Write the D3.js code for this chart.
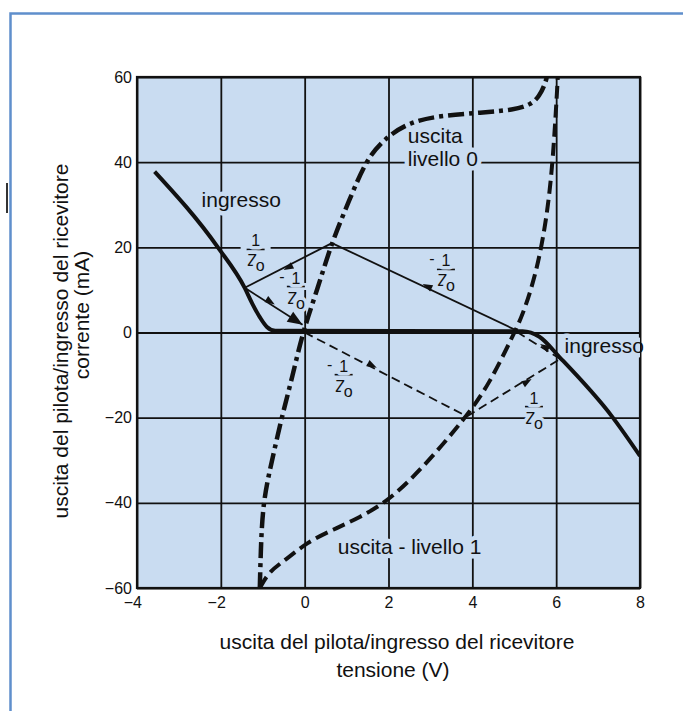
<!DOCTYPE html>
<html>
<head>
<meta charset="utf-8">
<script src="https://cdn.jsdelivr.net/npm/d3@7"></script>
<style>
  body { margin: 0; background: #fff; }
  svg { display: block; font-family: "Liberation Sans", Arial, sans-serif; }
</style>
</head>
<body>
<div class="chart"></div>
<script>
// axis ticks
var xTicks = [-4, -2, 0, 2, 4, 6, 8];
var yTicks = [-60, -40, -20, 0, 20, 40, 60];

// characteristic curves, [tensione V, corrente mA]
var ingresso = [[-3.58, 37.8], [-2.07, 20], [-1.43, 10.5], [-1.25, 6.8], [-1.07, 3.6],
  [-0.9, 1.3], [-0.7, 0.4], [5.2, 0.3], [5.6, -1], [6.1, -6], [7.33, -19.7], [8, -29]];
var uscitaLivello0 = [[-1.07, -60], [-1.05, -52], [-1.0, -40], [-0.79, -30.5], [-0.55, -20],
  [-0.29, -10.3], [-0.05, 0], [0.3, 10], [0.64, 21], [1.07, 31.2], [1.47, 40.6], [1.9, 45.5],
  [2.5, 49.5], [3.3, 51], [4.2, 51.6], [5.0, 52.3], [5.4, 53.5], [5.6, 55.5], [5.72, 58], [5.78, 60]];
var uscitaLivello1 = [[-1.07, -60], [-0.84, -56], [-0.44, -53.3], [0.05, -49.3], [0.68, -46.3],
  [1.3, -43.5], [1.99, -39.6], [2.8, -32], [3.87, -19.7], [4.42, -11.8], [4.96, -0.9], [5.2, 4],
  [5.53, 14], [5.78, 27], [5.93, 41], [6.04, 60]];

// load lines (slope +-1/Zo), arrow at fraction t along the segment
var loadSolid = [
  {from: [5.05, 0.5], to: [0.65, 21], t: 0.53},
  {from: [0.65, 21], to: [-1.43, 10.5], t: 0.6},
  {from: [-1.43, 10.5], to: [-0.05, 1.8], t: 0.45, endArrow: true}
];
var loadDashed = [
  {from: [0, 0], to: [3.87, -19.7], t: 0.42},
  {from: [3.87, -19.7], to: [6.1, -6.2], t: 0.65},
  {from: [6.1, -6.2], to: [5.05, 0.2], t: 0.55}
];

// text labels inside the plot
var labels = [
  {text: "ingresso", x: -2.46, y: 29.4},
  {text: "ingresso", x: 6.2, y: -4.7},
  {text: "uscita", x: 2.46, y: 44.6},
  {text: "livello 0", x: 2.46, y: 39.0},
  {text: "uscita - livello 1", x: 0.79, y: -52.1}
];
// 1/Zo fractions (centre of the fraction bar)
var fractions = [
  {sign: "", x: -1.17, y: 19.5},
  {sign: "-", x: -0.21, y: 10.8},
  {sign: "-", x: 3.37, y: 14.8},
  {sign: "-", x: 0.93, y: -9.9},
  {sign: "", x: 5.47, y: -17.4}
];

var W = 683, H = 711;
var margin = {top: 77, right: 43, bottom: 123, left: 137},
    width = W - margin.left - margin.right,
    height = H - margin.top - margin.bottom;
var bg = "#c9dcf1", ink = "#111";

var svg = d3.select(".chart").append("svg")
    .attr("width", W)
    .attr("height", H);

// page frame
svg.append("path")
    .attr("d", "M10.5,711V13.5H683")
    .attr("fill", "none")
    .attr("stroke", "#5f8fcc")
    .attr("stroke-width", 2.5);
svg.append("rect")
    .attr("x", 6).attr("y", 183).attr("width", 2).attr("height", 30)
    .attr("fill", "#333");

var g = svg.append("g")
    .attr("transform", "translate(" + margin.left + "," + margin.top + ")");

var x = d3.scaleLinear().domain([-4, 8]).range([0, width]);
var y = d3.scaleLinear().domain([-60, 60]).range([height, 0]);

g.append("clipPath").attr("id", "clip")
  .append("rect").attr("width", width).attr("height", height);

g.append("rect")
    .attr("width", width)
    .attr("height", height)
    .attr("fill", bg);

// grid
g.append("g")
    .attr("class", "grid")
    .attr("transform", "translate(0," + height + ")")
    .call(d3.axisBottom(x).tickValues(xTicks).tickSize(-height).tickFormat(""))
    .call(function(s) { s.select(".domain").remove(); });
g.append("g")
    .attr("class", "grid")
    .call(d3.axisLeft(y).tickValues(yTicks).tickSize(-width).tickFormat(""))
    .call(function(s) { s.select(".domain").remove(); });
g.selectAll(".grid line")
    .attr("stroke", ink)
    .attr("stroke-width", 1.8);

g.append("rect")
    .attr("width", width)
    .attr("height", height)
    .attr("fill", "none")
    .attr("stroke", ink)
    .attr("stroke-width", 2.2);

// tick labels
var xAxis = g.append("g")
    .attr("transform", "translate(0," + height + ")")
    .call(d3.axisBottom(x).tickValues(xTicks).tickSize(0).tickPadding(9));
var yAxis = g.append("g")
    .call(d3.axisLeft(y).tickValues(yTicks).tickSize(0).tickPadding(5));
[xAxis, yAxis].forEach(function(a) {
  a.select(".domain").remove();
  a.selectAll("text")
    .attr("fill", ink)
    .style("font-size", "16px")
    .style("font-family", "'Liberation Sans', Arial, sans-serif");
});
xAxis.selectAll("text").attr("dx", function(d) { return d < 0 ? "-0.29em" : 0; });

// axis titles
var xTitle = svg.append("text")
    .attr("text-anchor", "middle")
    .attr("fill", ink)
    .style("font-size", "21px");
xTitle.append("tspan").attr("x", 397).attr("y", 649).text("uscita del pilota/ingresso del ricevitore");
xTitle.append("tspan").attr("x", 393).attr("y", 677).text("tensione (V)");

svg.append("text")
    .attr("transform", "translate(68,341) rotate(-90)")
    .attr("text-anchor", "middle")
    .attr("fill", ink)
    .style("font-size", "21px")
    .text("uscita del pilota/ingresso del ricevitore");
svg.append("text")
    .attr("transform", "translate(89,315) rotate(-90)")
    .attr("text-anchor", "middle")
    .attr("fill", ink)
    .style("font-size", "21px")
    .text("corrente (mA)");

// labels: a halo (clipped to the plot) breaks the grid like the printed figure
var halo = g.append("g").attr("clip-path", "url(#clip)");
function addLabels(sel, isHalo) {
  sel.selectAll("text")
    .data(labels)
    .enter().append("text")
      .attr("x", function(d) { return x(d.x); })
      .attr("y", function(d) { return y(d.y); })
      .attr("fill", isHalo ? bg : ink)
      .attr("stroke", isHalo ? bg : "none")
      .attr("stroke-width", 9)
      .attr("stroke-linejoin", "round")
      .style("font-size", "21px")
      .text(function(d) { return d.text; });
}
addLabels(halo, true);
addLabels(g.append("g"), false);

var frac = g.selectAll(".frac")
  .data(fractions)
  .enter().append("g")
    .attr("class", "frac")
    .attr("transform", function(d) { return "translate(" + x(d.x) + "," + y(d.y) + ")"; })
    .style("font-size", "16px");
frac.append("line")
    .attr("x1", -15).attr("x2", 15)
    .attr("stroke", bg).attr("stroke-width", 7);
frac.append("line")
    .attr("x1", -9).attr("x2", 9)
    .attr("stroke", ink).attr("stroke-width", 1.6);
frac.selectAll(".t")
  .data(function(d) { return [
    {s: "1", x: 0, y: -3},
    {s: "Z", x: -3.5, y: 17},
    {s: "o", x: 4.5, y: 22},
    {s: d.sign, x: -14, y: -5}
  ]; })
  .enter().append("text")
    .attr("x", function(d) { return d.x; })
    .attr("y", function(d) { return d.y; })
    .attr("text-anchor", "middle")
    .attr("fill", ink)
    .attr("stroke", bg)
    .attr("stroke-width", 7)
    .attr("stroke-linejoin", "round")
    .attr("paint-order", "stroke")
    .text(function(d) { return d.s; });

// curves
var lineX = d3.line()
    .x(function(d) { return x(d[0]); })
    .y(function(d) { return y(d[1]); })
    .curve(d3.curveMonotoneX);
var smooth = d3.line()
    .x(function(d) { return x(d[0]); })
    .y(function(d) { return y(d[1]); })
    .curve(d3.curveBasis);

var curves = g.append("g").attr("clip-path", "url(#clip)");
curves.append("path")
    .datum(ingresso)
    .attr("fill", "none")
    .attr("stroke", ink)
    .attr("stroke-width", 4)
    .attr("stroke-linejoin", "round")
    .attr("d", lineX);
curves.append("path")
    .datum(uscitaLivello0)
    .attr("fill", "none")
    .attr("stroke", ink)
    .attr("stroke-width", 4.5)
    .attr("stroke-dasharray", "16,5,4,5")
    .attr("d", smooth);
curves.append("path")
    .datum(uscitaLivello1)
    .attr("fill", "none")
    .attr("stroke", ink)
    .attr("stroke-width", 4)
    .attr("stroke-dasharray", "13,6")
    .attr("d", smooth);

// load lines with arrows
function arrow(sel, d, px, py, len, half) {
  var a = Math.atan2(y(d.to[1]) - y(d.from[1]), x(d.to[0]) - x(d.from[0])) * 180 / Math.PI;
  sel.append("path")
      .attr("d", "M0,0L" + (-len) + "," + (-half) + "L" + (-len) + "," + half + "Z")
      .attr("transform", "translate(" + px + "," + py + ") rotate(" + a + ")")
      .attr("fill", ink);
}
function drawLoads(data, dash) {
  var s = g.append("g");
  data.forEach(function(d) {
    s.append("line")
        .attr("x1", x(d.from[0])).attr("y1", y(d.from[1]))
        .attr("x2", x(d.to[0])).attr("y2", y(d.to[1]))
        .attr("stroke", ink)
        .attr("stroke-width", 1.8)
        .attr("stroke-dasharray", dash);
    var px = x(d.from[0] + (d.to[0] - d.from[0]) * d.t),
        py = y(d.from[1] + (d.to[1] - d.from[1]) * d.t);
    arrow(s, d, px + 4, py, 10, 3.5);
    if (d.endArrow) arrow(s, d, x(d.to[0]), y(d.to[1]), 15, 6);
  });
}
drawLoads(loadSolid, null);
drawLoads(loadDashed, "9,5");
</script>
</body>
</html>
